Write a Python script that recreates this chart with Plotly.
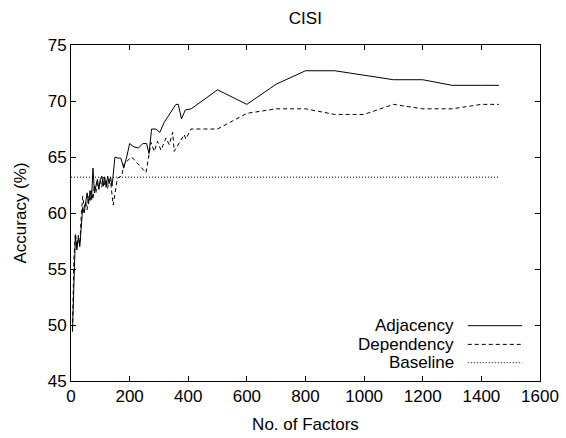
import plotly.graph_objects as go

adj_x = [5, 10, 15, 20, 25, 30, 35, 40, 45, 50, 55, 60, 65, 70, 75, 80, 85, 90, 95, 100,
         105, 110, 115, 120, 125, 130, 135, 140, 150, 160, 170, 180, 190, 200, 215, 230,
         245, 258, 266, 275, 290, 303, 318, 358, 366, 377, 390, 410, 500, 600, 700, 800,
         900, 1000, 1100, 1200, 1300, 1400, 1460]
adj_y = [49.4, 55.0, 58.0, 56.7, 57.8, 57.0, 59.0, 60.5, 60.0, 61.0, 61.8, 60.8, 62.0, 61.2, 64.0, 61.8, 62.6, 63.0, 62.1, 63.0,
         63.3, 62.4, 63.2, 62.3, 63.3, 62.6, 63.2, 62.4, 65.0, 64.9, 64.9, 64.0, 65.0, 66.2, 65.9, 65.8,
         66.2, 66.2, 65.3, 67.5, 67.5, 67.2, 68.1, 69.7, 69.7, 68.4, 69.2, 69.3, 71.0, 69.7, 71.5, 72.7,
         72.7, 72.3, 71.9, 71.9, 71.4, 71.4, 71.4]

dep_x = [5, 10, 15, 20, 25, 30, 35, 40, 45, 50, 55, 60, 65, 70, 75, 80, 85, 90, 95, 100,
         105, 110, 115, 120, 125, 130, 135, 144, 158, 173, 181, 190, 207, 256, 269, 273, 284,
         295, 307, 324, 335, 347, 352, 369, 386, 392, 409, 500, 600, 700, 800, 900, 1000,
         1100, 1200, 1300, 1400, 1460]
dep_y = [49.6, 56.0, 58.2, 57.0, 58.0, 57.2, 59.8, 61.5, 60.5, 61.0, 60.3, 61.5, 61.0, 62.0, 61.2, 62.5, 61.8, 62.8, 62.2, 63.0,
         62.3, 63.2, 62.4, 63.0, 62.2, 63.0, 62.8, 60.7, 63.1, 63.3, 64.4, 64.6, 65.0, 63.6, 65.5, 66.3, 65.5,
         66.4, 65.6, 66.7, 66.1, 67.2, 65.5, 66.2, 67.0, 66.6, 67.5, 67.5, 68.9, 69.3, 69.3, 68.8, 68.8,
         69.7, 69.3, 69.3, 69.7, 69.7]

base_x = [0, 1460]
base_y = [63.2, 63.2]

series_names = ["Adjacency", "Dependency", "Baseline"]
dashes = ["solid", "4px,3px", "1px,2px"]

fig = go.Figure()
for name, xs, ys, d in zip(series_names, [adj_x, dep_x, base_x], [adj_y, dep_y, base_y], dashes):
    fig.add_trace(go.Scatter(x=xs, y=ys, mode="lines", name=name,
                             line=dict(color="black", width=1, dash=d), showlegend=False))

# gnuplot-style legend: right-aligned text with line sample to the right
rows_y = [0.1646, 0.109, 0.0545]
for name, ry, d in zip(series_names, rows_y, dashes):
    fig.add_annotation(x=0.821, y=ry, xref="paper", yref="paper", text=name,
                       showarrow=False, xanchor="right", yanchor="middle",
                       font=dict(size=17, color="black"))
    fig.add_shape(type="line", xref="paper", yref="paper", x0=0.846, x1=0.962, y0=ry, y1=ry,
                  line=dict(color="black", width=1, dash=d))

axis_common = dict(showline=True, linecolor="black", linewidth=1, mirror="ticks",
                   ticks="inside", ticklen=5, tickcolor="black", tickwidth=1,
                   showgrid=False, zeroline=False, automargin=False,
                   tickfont=dict(size=17, color="black"))

fig.update_layout(
    width=566, height=438,
    margin=dict(l=71, r=26, t=45, b=57),
    paper_bgcolor="white", plot_bgcolor="white",
    font=dict(family="Liberation Sans, Arial, sans-serif", size=17, color="black"),
    title=dict(text="CISI", x=0.5395, xanchor="center", y=0.959, yanchor="middle",
               font=dict(size=17)),
    xaxis=dict(range=[0, 1600], dtick=200,
               title=dict(text="No. of Factors", standoff=12, font=dict(size=17)),
               **axis_common),
    yaxis=dict(range=[45, 75], dtick=5,
               title=dict(text="Accuracy (%)", standoff=16, font=dict(size=17)),
               **axis_common),
)

fig.write_html("out.html")
